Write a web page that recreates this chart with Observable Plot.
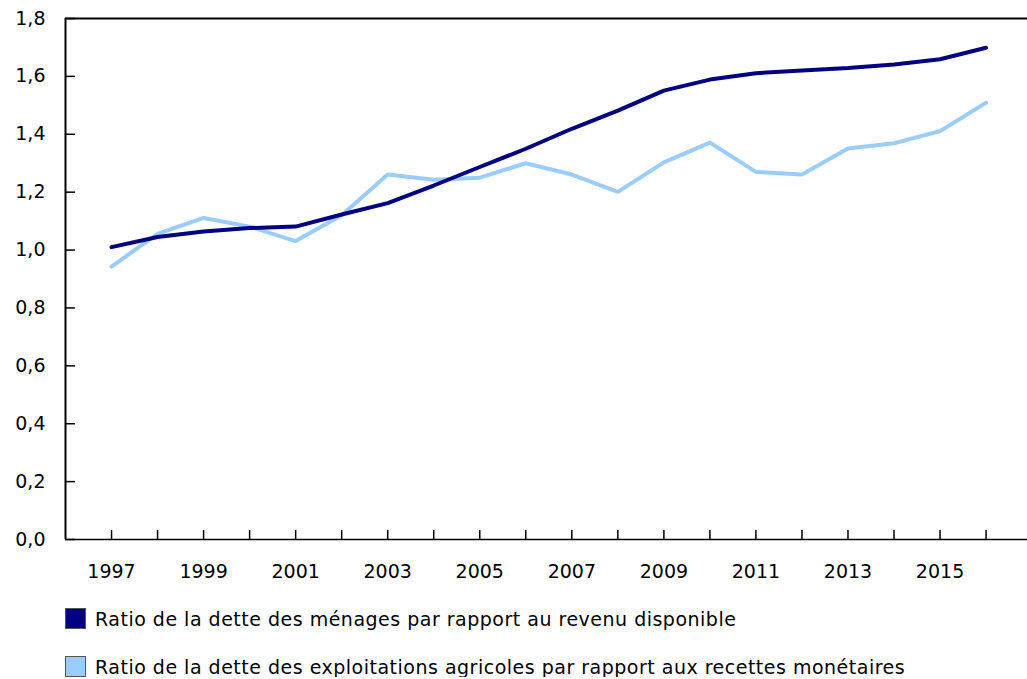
<!DOCTYPE html>
<html>
<head>
<meta charset="utf-8">
<script src="https://cdn.jsdelivr.net/npm/d3@7"></script>
<script src="https://cdn.jsdelivr.net/npm/@observablehq/plot@0.6"></script>
<style>
  body { margin: 0; background: #fff; font-family: "DejaVu Sans", Verdana, sans-serif; }
  #chart svg { display: block; }
  .legend { margin-left: 65px; font-size: 19px; color: #000; letter-spacing: 0.5px; }
  .item { display: flex; align-items: center; height: 21px; margin-top: 18px; }
  .item + .item { margin-top: 27px; }
  .sw { width: 19px; height: 19px; border: 1px solid #555; margin-right: 9px; flex: none; }
</style>
</head>
<body>
<div id="chart"></div>
<script>
const years = [1997,1998,1999,2000,2001,2002,2003,2004,2005,2006,2007,2008,2009,2010,2011,2012,2013,2014,2015,2016];
const menages = [1.01,1.045,1.064,1.076,1.081,1.123,1.162,1.223,1.287,1.35,1.419,1.482,1.551,1.589,1.611,1.62,1.629,1.641,1.659,1.699];
const agricoles = [0.943,1.056,1.111,1.081,1.031,1.12,1.261,1.243,1.25,1.30,1.261,1.201,1.303,1.371,1.27,1.261,1.351,1.369,1.411,1.509];
const yTicks = [0,0.2,0.4,0.6,0.8,1.0,1.2,1.4,1.6,1.8];
const seriesNames = [
  "Ratio de la dette des ménages par rapport au revenu disponible",
  "Ratio de la dette des exploitations agricoles par rapport aux recettes monétaires"
];
const seriesColors = ["#000080", "#99ccff"];

const rows = [];
years.forEach((y, i) => {
  rows.push({year: y, value: menages[i], serie: seriesNames[0]});
  rows.push({year: y, value: agricoles[i], serie: seriesNames[1]});
});

const fmt = d => d3.format(".1f")(d).replace(".", ",");

const chart = Plot.plot({
  width: 1027,
  height: 590,
  marginLeft: 65,
  marginRight: 0,
  marginTop: 18,
  marginBottom: 51,
  style: {fontFamily: "'DejaVu Sans', Verdana, sans-serif", fontSize: "19px", color: "#000", background: "#fff"},
  x: {domain: [1996, 2016.9], label: null},
  y: {domain: [0, 1.8], label: null},
  color: {domain: seriesNames, range: seriesColors},
  marks: [
    Plot.axisY(yTicks, {tickSize: 0, tickPadding: 20, tickFormat: fmt, fontSize: 19, fill: "#000", label: null}),
    Plot.axisY(yTicks, {tickSize: -10, tickFormat: () => "", stroke: "#000", strokeWidth: 1.5, label: null}),
    Plot.axisX(years, {tickSize: 0, tickPadding: 25, tickFormat: d => d % 2 ? String(d) : "", fontSize: 19, fill: "#000", label: null}),
    Plot.axisX(years, {tickSize: -9, tickFormat: () => "", stroke: "#000", strokeWidth: 1.5, label: null}),
    Plot.ruleY([0], {stroke: "#000", strokeWidth: 1.5}),
    Plot.ruleY([1.8], {stroke: "#000", strokeWidth: 2}),
    Plot.ruleX([1996], {stroke: "#000", strokeWidth: 2}),
    Plot.line(rows.filter(d => d.serie === seriesNames[1]), {x: "year", y: "value", stroke: "serie", strokeWidth: 4, strokeLinejoin: "miter"}),
    Plot.line(rows.filter(d => d.serie === seriesNames[0]), {x: "year", y: "value", stroke: "serie", strokeWidth: 4, strokeLinejoin: "miter"})
  ]
});
document.getElementById("chart").appendChild(chart);

const legend = document.createElement("div");
legend.className = "legend";
seriesNames.forEach((name, i) => {
  const it = document.createElement("div");
  it.className = "item";
  const sw = document.createElement("span");
  sw.className = "sw";
  sw.style.background = seriesColors[i];
  const tx = document.createElement("span");
  tx.textContent = name;
  it.appendChild(sw);
  it.appendChild(tx);
  legend.appendChild(it);
});
document.body.appendChild(legend);
</script>
</body>
</html>
